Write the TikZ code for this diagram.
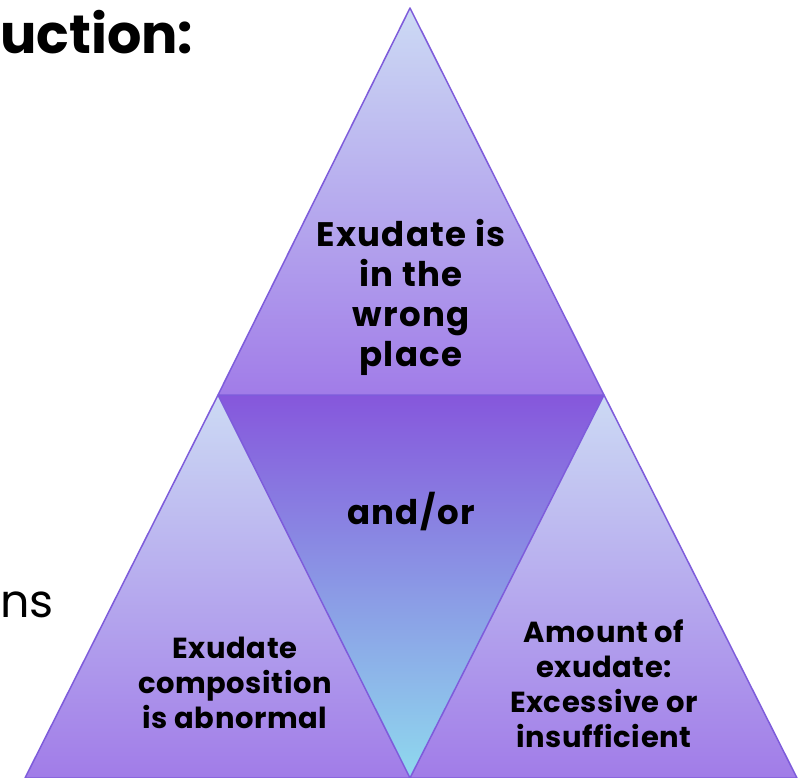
\documentclass[tikz,border=0pt]{standalone}
\usepackage{fontspec}
\setmainfont{Poppins}
\usepackage{tikz}
\definecolor{pale}{RGB}{204,218,244}
\definecolor{lilac}{RGB}{161,124,232}
\definecolor{deep}{RGB}{134,87,220}
\definecolor{sky}{RGB}{143,217,238}
\definecolor{rim}{RGB}{126,92,219}

\begin{document}
\begin{tikzpicture}[x=1pt,y=-1pt,
  outer/.style={top color=pale, bottom color=lilac, draw=rim, line width=1.5pt, line join=round},
  inner/.style={top color=deep, bottom color=sky},
  lbl/.style={font=\bfseries\fontsize{34}{40}\selectfont\addfontfeatures{LetterSpace=4}, align=center, inner sep=0pt},
  small/.style={font=\bfseries\fontsize{29}{35}\selectfont\addfontfeatures{LetterSpace=2}, align=center, inner sep=0pt}]
\useasboundingbox (0,0) rectangle (800,778);
\coordinate (apex) at (410,8);
\coordinate (ml) at (218,395);
\coordinate (mr) at (604,395);
\coordinate (bl) at (25,778);
\coordinate (bm) at (410,778);
\coordinate (br) at (797,778);
\shade[inner] (ml) -- (mr) -- (bm) -- cycle;
\shadedraw[outer] (apex) -- (mr) -- (ml) -- cycle;
\shadedraw[outer] (ml) -- (bm) -- (bl) -- cycle;
\shadedraw[outer] (mr) -- (br) -- (bm) -- cycle;
\node[lbl] (place) at (411,297) {Exudate is\\in the\\wrong\\place};
\node[lbl] (andor) at (411,512) {and/or};
\node[small] (comp) at (235,683) {Exudate\\composition\\is abnormal};
\node[small] (amount) at (604,684) {Amount of\\exudate:\\Excessive or\\insufficient};
\node[anchor=west, inner sep=0pt, font=\bfseries\fontsize{54}{58}\selectfont] (head) at (0,32) {uction:};
\node[anchor=west, inner sep=0pt, font=\fontsize{46}{50}\selectfont] (tail) at (0,605) {ns};
\end{tikzpicture}
\end{document}
